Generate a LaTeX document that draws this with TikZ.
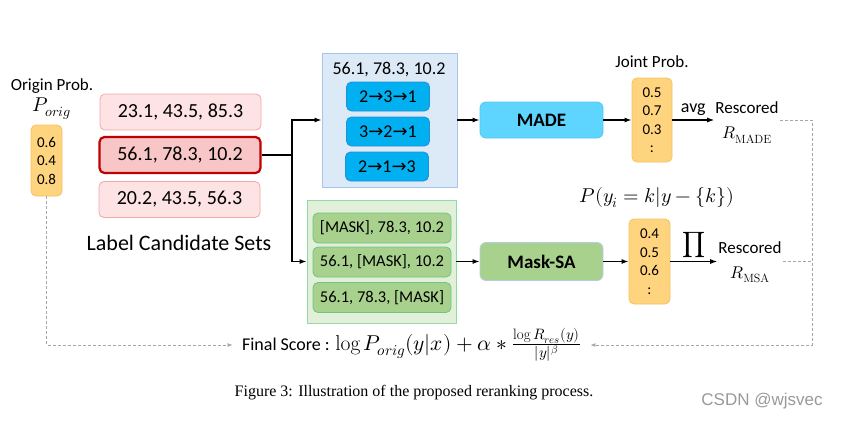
\documentclass[tikz,border=0pt]{standalone}
\usepackage{amsmath}
\usepackage{fontspec}
\usepackage{unicode-math}
\setmainfont{Carlito}
\setmathfont{Latin Modern Math}
\setmathrm{Latin Modern Roman}
\newfontfamily\capfont{Liberation Serif}
\newfontfamily\wmfont{Liberation Sans}
\newfontfamily\arrfont{DejaVu Sans}
\usepackage{xcolor}
\usetikzlibrary{arrows.meta}

\definecolor{candfill}{HTML}{FDE3E3}
\definecolor{candline}{HTML}{F2A7A7}
\definecolor{selfill}{HTML}{F8C6C6}
\definecolor{selline}{HTML}{C00000}
\definecolor{probfill}{HTML}{FFD47E}
\definecolor{probline}{HTML}{F7C062}
\definecolor{bluebg}{HTML}{DCE9F7}
\definecolor{blueline}{HTML}{A6C4EC}
\definecolor{permfill}{HTML}{00B0F0}
\definecolor{permline}{HTML}{2290D4}
\definecolor{madefill}{HTML}{5DD5FF}
\definecolor{madeline}{HTML}{55C6F2}
\definecolor{greenbg}{HTML}{E2F0D9}
\definecolor{greenline}{HTML}{94DAA8}
\definecolor{maskfill}{HTML}{A9D18E}
\definecolor{maskline}{HTML}{6DC483}
\definecolor{msaline}{HTML}{B4CDE6}

\newcommand{\parr}{{\arrfont →}}

\begin{document}
\begin{tikzpicture}[x=1pt,y=-1pt,
    cand/.style={draw=candline,fill=candfill,rounded corners=5pt,line width=0.8pt,
        minimum width=161pt,minimum height=36pt,font=\fontsize{20}{24}\selectfont},
    prob/.style={draw=probline,fill=probfill,rounded corners=5pt,line width=0.8pt,
        align=center,font=\fontsize{15}{18.5}\selectfont},
    perm/.style={draw=permline,fill=permfill,rounded corners=5pt,line width=0.8pt,
        minimum width=83pt,minimum height=29pt,font=\fontsize{18}{22}\selectfont},
    masked/.style={draw=maskline,fill=maskfill,rounded corners=5pt,line width=0.8pt,
        minimum width=138pt,minimum height=30pt,font=\fontsize{16.5}{20}\selectfont},
    net/.style={rounded corners=6pt,line width=0.8pt,minimum width=123pt,
        font=\fontsize{19}{23}\selectfont\bfseries},
    res/.style={align=center,inner xsep=1pt,font=\fontsize{17}{25}\selectfont},
    flow/.style={-{Latex[length=7pt,width=5pt]},line width=1.2pt},
    fb/.style={draw=gray!70,line width=0.7pt,dash pattern=on 3pt off 2pt,
        -{Latex[length=5pt,width=4pt]},shorten >=6pt}]
    \useasboundingbox (0,0) rectangle (841,421);

    % origin probability
    \node[font=\fontsize{17}{20}\selectfont] (origtitle) at (52,86) {Origin Prob.};
    \node[font=\fontsize{20}{22}\selectfont] (origsym) at (52,109) {$P_{orig}$};
    \node[prob,minimum width=31pt,minimum height=71pt] (orig) at (46.5,160.5) {0.6\\0.4\\0.8};

    % label candidate sets
    \node[cand] (cand1) at (180.5,112) {23.1, 43.5, 85.3};
    \node[cand,draw=selline,fill=selfill,line width=2.2pt] (cand2) at (180,155) {56.1, 78.3, 10.2};
    \node[cand] (cand3) at (179.5,199.5) {20.2, 43.5, 56.3};
    \node[font=\fontsize{22}{26}\selectfont] (candlabel) at (179,243) {Label Candidate Sets};

    % MADE branch
    \node[draw=blueline,fill=bluebg,line width=0.8pt,minimum width=135pt,minimum height=134pt] (madeset) at (389.5,120) {};
    \node[font=\fontsize{18}{22}\selectfont] (madetitle) at (389,69) {56.1, 78.3, 10.2};
    \node[perm] (perm1) at (388,96.5) {2\parr3\parr1};
    \node[perm] (perm2) at (388,131.5) {3\parr2\parr1};
    \node[perm] (perm3) at (387,166.5) {2\parr1\parr3};
    \node[net,draw=madeline,fill=madefill,minimum height=36pt] (made) at (541.5,120) {MADE};
    \node[prob,minimum width=40pt,minimum height=84pt] (madeprob) at (652,120) {0.5\\0.7\\0.3\\:};
    \node[font=\fontsize{17}{20}\selectfont] (jointlabel) at (652,62) {Joint Prob.};
    \node[res] (madeRes) at (747,122.5) {Rescored\\$R_{\mathrm{MADE}}$};

    % Mask-SA branch
    \node[font=\fontsize{20}{23}\selectfont] (condprob) at (657,198) {$P(y_i = k|y - \{k\})$};
    \node[draw=greenline,fill=greenbg,line width=0.8pt,minimum width=149pt,minimum height=123pt] (msaset) at (381.5,261.5) {};
    \node[masked] (mask1) at (382,228) {[MASK], 78.3, 10.2};
    \node[masked] (mask2) at (382,262) {56.1, [MASK], 10.2};
    \node[masked] (mask3) at (382,297.5) {56.1, 78.3, [MASK]};
    \node[net,draw=msaline,fill=maskfill,minimum height=38pt] (msa) at (541.5,261.5) {Mask-SA};
    \node[prob,minimum width=41pt,minimum height=85pt] (msaprob) at (649.5,261.5) {0.4\\0.5\\0.6\\:};
    \node[res] (msaRes) at (750,262) {Rescored\\$R_{\mathrm{MSA}}$};

    % final score
    \node[font=\fontsize{18}{22}\selectfont] (final) at (411.5,345)
        {Final Score : {\fontsize{21.5}{24}\selectfont$\log P_{orig}(y|x) + \alpha * \frac{\log R_{res}(y)}{|y|^{\beta}}$}};
    \node[font=\fontsize{16}{18}\selectfont\capfont] (caption) at (414,393)
        {Figure 3: Illustration of the proposed reranking process.};
    \node[font=\fontsize{17}{20}\selectfont\wmfont,text=gray!80] (mark) at (762,401) {CSDN @wjsvec};

    % connectors
    \coordinate (split) at (292,155);
    \draw[flow] (cand2.east) -- (split) |- (madeset.west);
    \draw[flow] (split) |- (msaset.west);
    \draw[flow] (madeset) -- (made);
    \draw[flow] (made) -- (madeprob);
    \draw[flow] (madeprob.east) -- (madeprob.east -| madeRes.west)
        node[midway,above,font=\fontsize{18}{22}\selectfont] {avg};
    \draw[flow] (msaset) -- (msa);
    \draw[flow] (msa) -- (msaprob);
    \draw[flow] (msaprob.east) -- (msaprob.east -| msaRes.west)
        node[midway,above,font=\fontsize{18}{22}\selectfont] {$\displaystyle\prod$};

    % dashed feedback
    \coordinate (rcorner) at (812,120);
    \draw[fb] (madeRes.east |- madeprob.east) -- (rcorner) |- (final.east);
    \draw[fb,-,shorten >=0pt] (msaRes.east |- msaprob.east) -- (msaprob.east -| rcorner);
    \draw[fb] (orig.south) |- (final.west);
\end{tikzpicture}
\end{document}
